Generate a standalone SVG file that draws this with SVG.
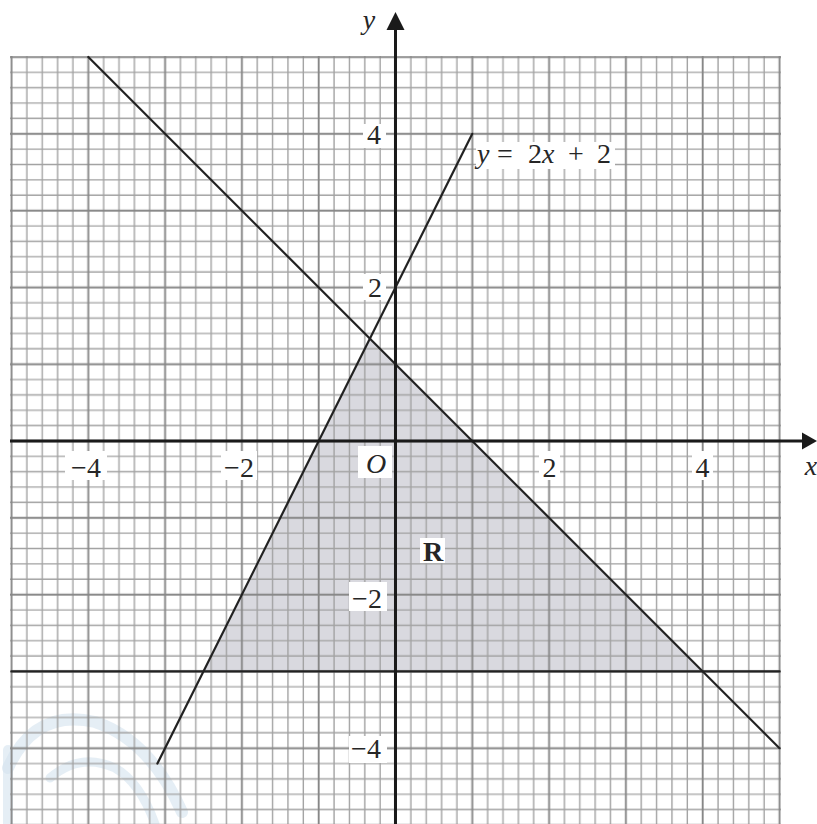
<svg xmlns="http://www.w3.org/2000/svg" width="817" height="824" viewBox="0 0 817 824">
<style>
.lbl{font-family:"Liberation Serif","Times New Roman",serif;font-size:28px;fill:#262626;text-anchor:middle}
.it{font-style:italic}
.eq{font-family:"Liberation Serif","Times New Roman",serif;font-size:28px;fill:#262626}
.ln{stroke:#222;stroke-width:2.2;fill:none;stroke-linecap:round}
.ax{stroke:#1a1a1a;stroke-width:3;fill:none}
.bg{fill:#fff}
.wm{fill:none;stroke:#d3e2ef;stroke-linecap:round;opacity:0.6}
</style>
<defs>
<pattern id="grid" patternUnits="userSpaceOnUse" x="3.82" y="49.32" width="76.8" height="76.8">
<path d="M23.04 0V76.8M38.4 0V76.8M53.76 0V76.8M69.12 0V76.8M0 23.04H76.8M0 38.4H76.8M0 53.76H76.8M0 69.12H76.8" stroke="#a2a2a2" stroke-width="1.4" fill="none"/>
<path d="M7.68 0V76.8M0 7.68H76.8" stroke="#878787" stroke-width="1.9" fill="none"/>
</pattern>
</defs>
<rect width="817" height="824" fill="#fff"/>
<g id="region-R">
<polygon points="203.5,671.4 369.9,338.6 702.7,671.4" fill="#d9d9df"/>
</g>
<g id="watermark">
<path class="wm" stroke-width="12" d="M8 768 Q35 708 95 722 Q150 740 182 812"/>
<path class="wm" stroke-width="9" d="M50 778 Q80 752 115 768 Q140 782 155 824"/>
<path class="wm" stroke-width="10" d="M8 750 V824"/>
</g>
<g id="grid-paper">
<rect x="10" y="56" width="771" height="770" fill="url(#grid)"/>
</g>
<g id="connectors">
<line id="line-y-eq-minus-x-plus-1" class="ln" x1="88.3" y1="57" x2="779.5" y2="748.2"/>
<line id="line-y-eq-2x-plus-2" class="ln" x1="157.4" y1="763.6" x2="472.3" y2="133.8"/>
<line id="line-y-eq-minus-3" class="ln" x1="11.5" y1="671.4" x2="779.5" y2="671.4"/>
</g>
<g id="x-axis">
<line class="ax" x1="10" y1="441" x2="805" y2="441"/>
<polygon points="817,441 802,432.5 802,449.5" fill="#1a1a1a"/>
</g>
<g id="y-axis">
<line class="ax" x1="395.5" y1="824" x2="395.5" y2="28"/>
<polygon points="395.5,12 386.5,30 404.5,30" fill="#1a1a1a"/>
</g>
<g id="labels-bg">
<rect class="bg" x="65" y="451" width="42" height="29"/>
<rect class="bg" x="221" y="451" width="36" height="29"/>
<rect class="bg" x="539" y="451" width="21" height="29"/>
<rect class="bg" x="692" y="451" width="21" height="29"/>
<rect class="bg" x="363" y="124" width="23" height="24"/>
<rect class="bg" x="363" y="274" width="23" height="26"/>
<rect class="bg" x="349" y="582" width="38" height="29"/>
<rect class="bg" x="349" y="736" width="38" height="27"/>
<rect class="bg" x="358" y="446" width="34" height="32"/>
<rect class="bg" x="420" y="538" width="25" height="25"/>
<rect class="bg" x="476" y="142" width="139" height="27"/>
</g>
<g id="x-labels">
<text class="lbl" x="86" y="477">−4</text>
<text class="lbl" x="239" y="477">−2</text>
<text class="lbl" x="549.5" y="477">2</text>
<text class="lbl" x="702.5" y="477">4</text>
<text class="lbl it" x="811" y="475">x</text>
</g>
<g id="y-labels">
<text class="lbl" x="374" y="144">4</text>
<text class="lbl" x="375" y="297">2</text>
<text class="lbl" x="367" y="608">−2</text>
<text class="lbl" x="366" y="758">−4</text>
<text class="lbl it" x="369" y="29">y</text>
</g>
<g id="origin-label">
<text class="lbl it" x="376" y="473" font-size="29">O</text>
</g>
<g id="region-label">
<text class="lbl" x="433" y="561" font-weight="bold" font-size="27">R</text>
</g>
<g id="equation-label">
<text class="eq" y="163"><tspan x="477" font-style="italic">y</tspan><tspan x="497">=</tspan><tspan x="528">2</tspan><tspan x="542" font-style="italic">x</tspan><tspan x="568">+</tspan><tspan x="597">2</tspan></text>
</g>
</svg>
